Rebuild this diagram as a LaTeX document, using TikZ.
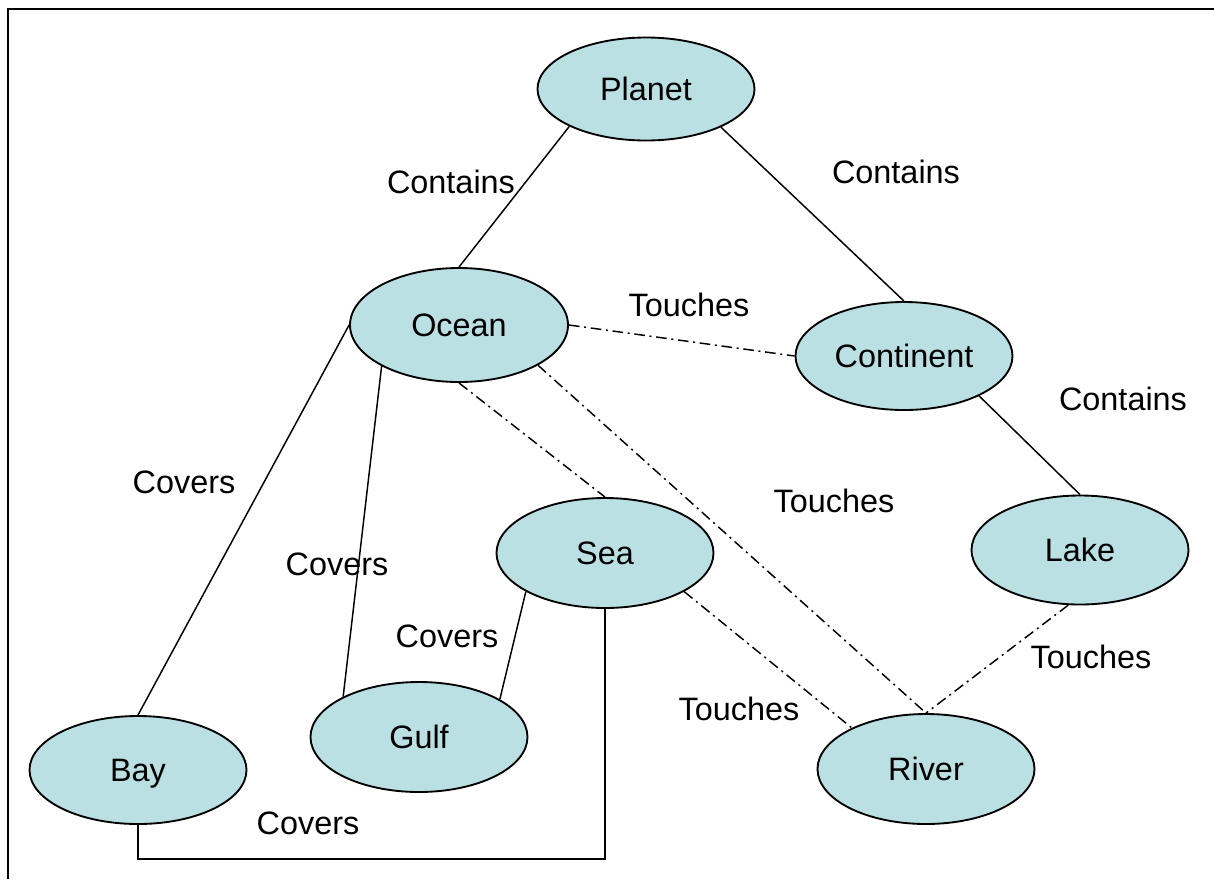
\documentclass[tikz,border=0pt]{standalone}
\usepackage{fontspec}
\setmainfont{Liberation Sans}
\begin{document}
\begin{tikzpicture}[x=0.75pt,y=-0.75pt,
  concept/.style={ellipse,draw=black,line width=1.4pt,fill=conceptfill,inner sep=0pt,text depth=0pt,minimum width=162.75pt,minimum height=82pt,font=\fontsize{24.3}{29}\selectfont},
  lbl/.style={inner sep=0pt,font=\fontsize{24.3}{29}\selectfont},
  rel/.style={line width=1.1pt,black},
  touch/.style={line width=1.1pt,black,dash pattern=on 8pt off 3.5pt on 1.5pt off 3.5pt}]
\definecolor{conceptfill}{HTML}{BAE0E3}
\useasboundingbox (0,0) rectangle (1214,879);
\usetikzlibrary{shapes.geometric}
\draw[line width=1.4pt] (8,879) -- (8,9) -- (1214,9);

\node[concept,minimum height=77.25pt] (planet) at (646,89) {Planet};
\node[concept,minimum height=85.5pt,minimum width=163.5pt] (ocean) at (459,325) {Ocean};
\node[concept,minimum height=81pt] (continent) at (904,356) {Continent};
\node[concept,minimum height=82.5pt] (sea) at (605,553) {Sea};
\node[concept,minimum height=81.75pt] (lake) at (1080,550) {Lake};
\node[concept,minimum height=82.5pt] (gulf) at (419,737) {Gulf};
\node[concept,minimum height=81pt] (bay) at (138,770) {Bay};
\node[concept,minimum height=82.5pt] (river) at (926,769) {River};

\draw[rel] (planet.206.6) -- (ocean.north);
\draw[rel] (planet.333.4) -- (continent.north);
\draw[rel] (continent.332.6) -- (lake.north);
\draw[rel] (ocean.west) -- (bay.north);
\draw[rel] (ocean.208.4) -- (gulf.152.8);
\draw[rel] (sea.206.6) -- (gulf.25.4);
\draw[rel] (sea.south) -- ++(0,250) -| (bay.south);

\draw[touch] (ocean.east) -- (continent.west);
\draw[touch] (ocean.south) -- (sea.north);
\draw[touch] (ocean.333) -- (river.north);
\draw[touch] (sea.334) -- (river.151);
\draw[touch] (lake.258) -- (river.north);

\node[lbl] (l1) at (451,182) {Contains};
\node[lbl] (l2) at (896,172) {Contains};
\node[lbl] (l3) at (689,305) {Touches};
\node[lbl] (l4) at (1123,399) {Contains};
\node[lbl] (l5) at (834,501) {Touches};
\node[lbl] (l6) at (184,482) {Covers};
\node[lbl] (l7) at (337,564) {Covers};
\node[lbl] (l8) at (447,636) {Covers};
\node[lbl] (l9) at (739,709) {Touches};
\node[lbl] (l10) at (1091,657) {Touches};
\node[lbl] (l11) at (308,823) {Covers};
\end{tikzpicture}
\end{document}
